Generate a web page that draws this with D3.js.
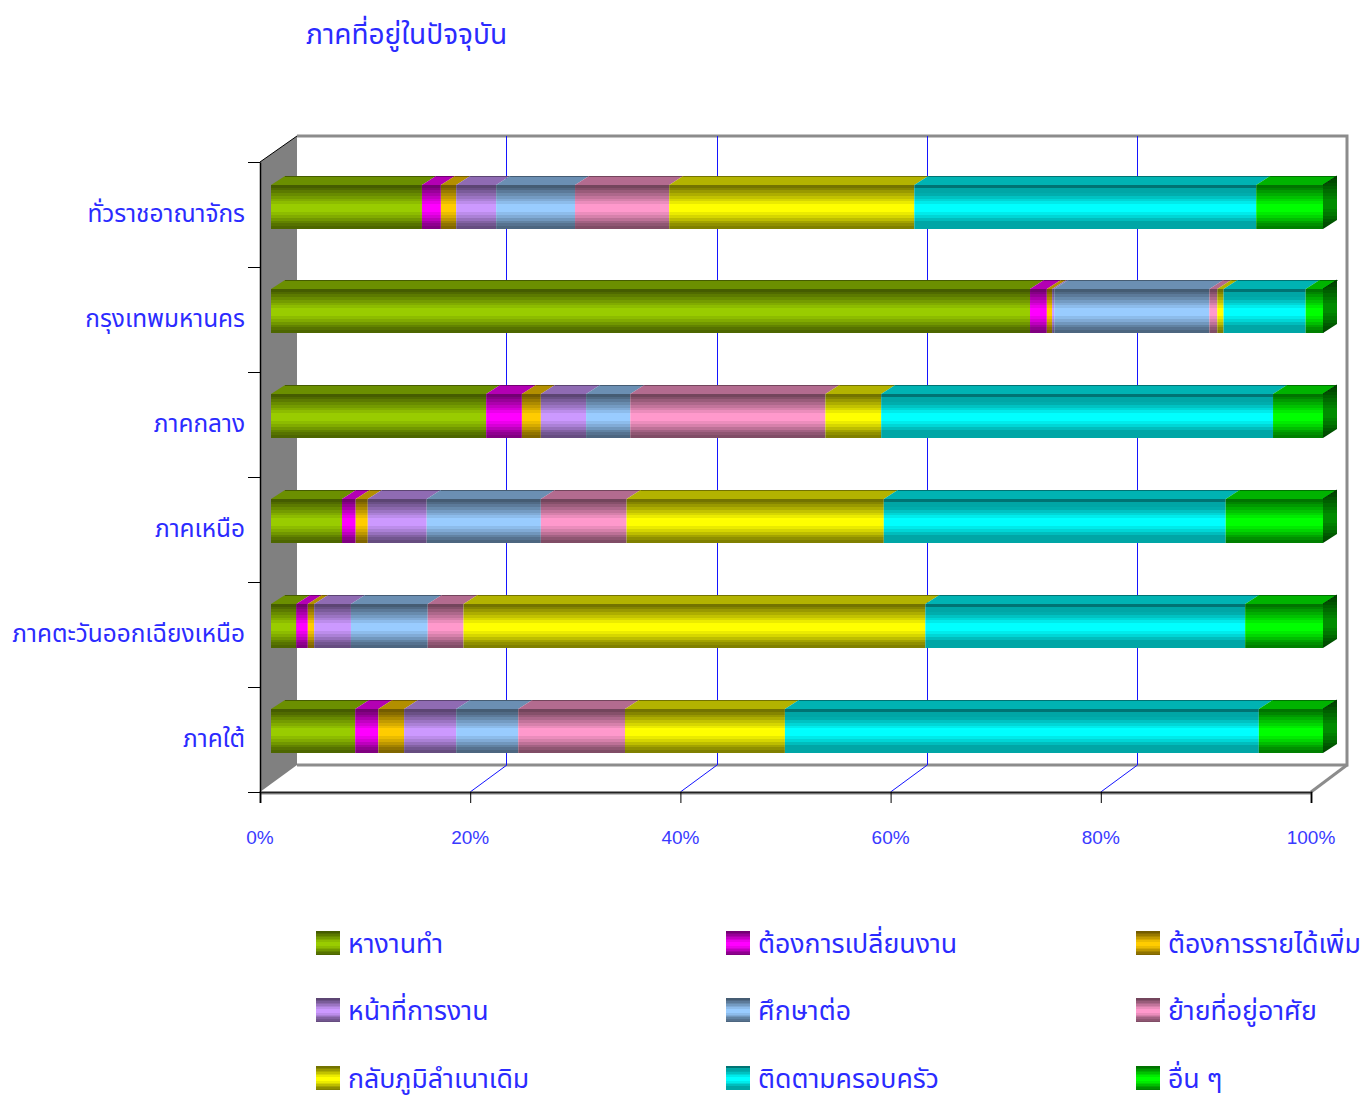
<!DOCTYPE html>
<html lang="th"><head><meta charset="utf-8">
<script src="https://cdn.jsdelivr.net/npm/d3@7/dist/d3.min.js"></script>
<style>html,body{margin:0;padding:0;background:#fff}svg{display:block}
.th{font-family:"Noto Sans Thai","Noto Sans","Noto Sans CJK SC",sans-serif;fill:#2b2bff}
.tick text{font-family:"Liberation Sans",Arial,sans-serif;fill:#3a3aff;font-size:19px}</style></head>
<body><svg id="c" width="1363" height="1098"></svg>
<script>
const title = "ภาคที่อยู่ในปัจจุบัน";
const categories = ["ทั่วราชอาณาจักร","กรุงเทพมหานคร","ภาคกลาง","ภาคเหนือ","ภาคตะวันออกเฉียงเหนือ","ภาคใต้"];
const seriesNames = ["หางานทำ","ต้องการเปลี่ยนงาน","ต้องการรายได้เพิ่ม","หน้าที่การงาน","ศึกษาต่อ","ย้ายที่อยู่อาศัย","กลับภูมิลำเนาเดิม","ติดตามครอบครัว","อื่น ๆ"];
const colors = ["#99cc00","#ff00ff","#ffcc00","#cc99ff","#99ccff","#ff99cc","#ffff00","#00ffff","#00ff00"];
const hangan   = [14.35,72.15,20.45, 6.75, 2.4, 8.0];
const plian    = [ 1.8,  1.6,  3.4,  1.3, 1.1, 2.2];
const raidai   = [ 1.45, 0.5,  1.8,  1.15,0.6, 2.45];
const nathi    = [ 3.8,  0.2,  4.3,  5.6, 3.5, 4.95];
const sueksa   = [ 7.5, 14.75, 4.2, 10.85,7.3, 5.9];
const yai      = [ 8.95, 0.75,18.55, 8.15,3.4,10.15];
const klap     = [23.3,  0.6,  5.3, 24.45,43.9,15.2];
const tidtam   = [32.5,  7.8, 37.25,32.5, 30.4,45.05];
const uen      = [ 6.35, 1.7,  4.75, 9.25, 7.4, 6.1];
const tickValues = [0,20,40,60,80,100];

const valueSets = [hangan,plian,raidai,nathi,sueksa,yai,klap,tidtam,uen];
const rows = categories.map((c,i)=>{const o={cat:c};seriesNames.forEach((s,j)=>o[s]=valueSets[j][i]);return o;});
const stacked = d3.stack().keys(seriesNames)(rows);

const svg = d3.select("#c");
const defs = svg.append("defs");
const bandLevels = [.45,.52,.6,.68,.76,.84,.92,1,1,1,.92,.84,.74,.64,.56,.5];
const floors = [0,0,0,0,0,0,0,.65,.5];
function shade(c,k){const r=d3.rgb(c);return d3.rgb(r.r*k,r.g*k,r.b*k).formatHex();}
function grad(id,c,scale,floor){
  const g=defs.append("linearGradient").attr("id",id).attr("x1",0).attr("y1",0).attr("x2",0).attr("y2",1);
  bandLevels.forEach((k,i)=>{
    const lv=(i===0?k:Math.max(k,floor))*scale;
    g.append("stop").attr("offset",i/bandLevels.length).attr("stop-color",shade(c,lv));
    g.append("stop").attr("offset",(i+1)/bandLevels.length).attr("stop-color",shade(c,lv));
  });
}
colors.forEach((c,i)=>{grad("g"+i,c,1,floors[i]);grad("s"+i,c,.55,0);});

const x  = d3.scaleLinear().domain([0,100]).range([260,1311]);     // front floor edge
const xb = d3.scaleLinear().domain([0,100]).range([296.7,1347.7]); // back wall
const xv = d3.scaleLinear().domain([0,100]).range([271,1323]);     // bars
const y  = d3.scaleBand().domain(categories).range([162,792]);
const yBar = d3.scaleBand().domain(categories).range([132.55,761.95]);
const D = {x:14,y:9}, barH=44;
const axisBlue="#1414ff", frame="#8c8c8c";

// walls
svg.append("polygon").attr("points","260,162 297,136 297,765 260,792").attr("fill","#808080");
svg.append("path").attr("d","M297,136H1347V765H297").attr("fill","none").attr("stroke",frame).attr("stroke-width",3);
svg.append("path").attr("d","M1347,765L1311,792").attr("stroke",frame).attr("stroke-width",3);
svg.append("path").attr("d","M260,794H1311").attr("stroke","#c4c4c4").attr("stroke-width",2);
svg.append("path").attr("d","M260,162L297,136").attr("stroke","#000");

// grid
const gridVals = tickValues.slice(1,-1);
svg.selectAll(".gd").data(gridVals).join("path")
  .attr("d",d=>`M${x(d)},792L${xb(d)},765`).attr("fill","none").attr("stroke",axisBlue);
svg.selectAll(".gv").data(gridVals).join("path")
  .attr("d",d=>`M${Math.floor(xb(d))+.5},136V765`).attr("fill","none").attr("stroke",axisBlue);

// bars
const rowsG = svg.append("g");
categories.forEach((cat,ci)=>{
  const top = Math.floor(yBar(cat)+yBar.bandwidth()/2);
  const g = rowsG.append("g");
  stacked.forEach((s,j)=>{
    const pt = s[ci];
    const x0=xv(pt[0]), x1=xv(pt[1]);
    g.append("polygon").attr("points",`${x0},${top} ${x0+D.x},${top-D.y} ${x1+D.x},${top-D.y} ${x1},${top}`)
      .attr("fill",shade(colors[j],.7));
    g.append("path").attr("d",`M${x0+D.x},${top-D.y+.5}H${x1+D.x}`).attr("stroke",shade(colors[j],.45));
    g.append("rect").attr("x",x0).attr("y",top).attr("width",x1-x0).attr("height",barH).attr("fill",`url(#g${j})`);
  });
  const xe=xv(100), last=colors.length-1;
  g.append("polygon").attr("points",`${xe},${top} ${xe+D.x},${top-D.y} ${xe+D.x},${top+barH-D.y} ${xe},${top+barH}`).attr("fill",`url(#s${last})`);
  g.append("path").attr("d",`M${xe},${top}L${xe+D.x},${top-D.y}`).attr("stroke","#003300");
});

// axes
const ax = svg.append("g").attr("transform","translate(0,792)")
  .call(d3.axisBottom(x).tickValues(tickValues).tickFormat(d=>d+"%").tickSize(11).tickPadding(28));
ax.selectAll("path,line").attr("stroke","#000");
ax.select(".domain").attr("stroke-width",2).attr("stroke","#222");
ax.selectAll(".tick text").attr("dx",-0.5);
const ticksY = d3.range(0,categories.length+1);
const ay = d3.scaleLinear().domain([0,categories.length]).range([162,792]);
const al = svg.append("g").attr("transform","translate(260,0)")
  .call(d3.axisLeft(ay).tickValues(ticksY).tickFormat("").tickSize(12).tickSizeOuter(0));
al.selectAll("path,line").attr("stroke","#000");
al.select(".domain").attr("stroke-width",1.5);

// category labels
svg.selectAll(".cl").data(categories).join("text").attr("class","th")
  .attr("x",245).attr("y",d=>y(d)+y.bandwidth()/2+7)
  .attr("text-anchor","end").attr("font-size",24.4).text(d=>d);

// title
svg.append("text").attr("class","th").attr("x",306).attr("y",44).attr("font-size",28).text(title);

// legend
const lx=[316,726,1136], ly=[931,998,1066];
seriesNames.forEach((n,i)=>{
  const cx=lx[i%3], cy=ly[Math.floor(i/3)];
  svg.append("rect").attr("x",cx).attr("y",cy).attr("width",24).attr("height",24).attr("fill",`url(#g${i})`);
  svg.append("text").attr("class","th").attr("x",cx+32).attr("y",cy+22).attr("font-size",26.7).text(n);
});
</script></body></html>
